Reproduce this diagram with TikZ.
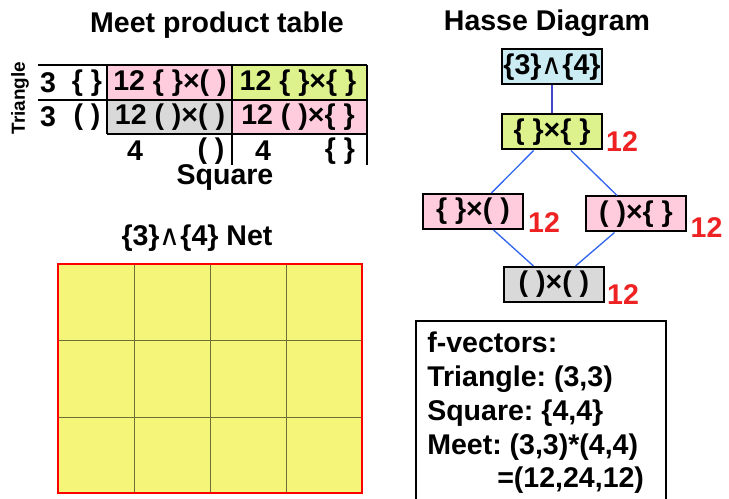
\documentclass[tikz,border=0pt]{standalone}
\usepackage{fontspec}
\setmainfont{Liberation Sans}
\newfontfamily\dvfont{DejaVu Sans}
\newcommand\bigtxt{\fontsize{21.4}{25}\selectfont\bfseries\frenchspacing}
\newcommand\wedgech{{\dvfont\mdseries ∧}}
\definecolor{cpink}{HTML}{FFCCDD}
\definecolor{cgreen}{HTML}{DDF28C}
\definecolor{cgray}{HTML}{D9D9D9}
\definecolor{cblue}{HTML}{CCECF4}
\definecolor{cyellow}{HTML}{F5F57A}
\definecolor{cedge}{HTML}{3366EE}
\definecolor{ctopedge}{HTML}{4444CC}
\definecolor{cred}{HTML}{EE2222}
\colorlet{cgrid}{black!55!cyellow}
\begin{document}
\begin{tikzpicture}[x=0.75pt,y=-0.75pt,
  every node/.style={font=\bigtxt, inner sep=0pt},
  tline/.style={line width=1.5pt, black},
  hbox/.style={draw, line width=1.5pt, minimum width=75pt, minimum height=26.25pt},
  hedge/.style={cedge, line width=1pt},
  redlab/.style={text=cred, anchor=center}]
\useasboundingbox (0,0) rectangle (729,499);

% ---------- Meet product table ----------
\node (ttitle) at (217,25) {Meet product table};
\fill[cpink]  (107,65) rectangle (232,100);
\fill[cgreen] (232,65) rectangle (367,100);
\fill[cgray]  (107,100) rectangle (232,134);
\fill[cpink]  (232,100) rectangle (367,134);
\draw[tline] (38,65) -- (367,65);
\draw[tline] (38,100) -- (367,100);
\draw[tline] (107,134) -- (367,134);
\draw[tline] (107,65) -- (107,134);
\draw[tline] (232,65) -- (232,165);
\draw[tline] (367,65) -- (367,165);

\node[rotate=90, font=\fontsize{14.2}{16}\selectfont\bfseries] (tri) at (20,98) {Triangle};
\node (r1a) at (48,83) {3};
\node (r1b) at (87,83) {\{ \}};
\node (r2a) at (48,117) {3};
\node (r2b) at (87,117) {( )};
\node (c11) at (170,83) {12 \{ \}×( )};
\node (c12) at (298,83) {12 \{ \}×\{ \}};
\node (c21) at (170,117) {12 ( )×( )};
\node (c22) at (298,117) {12 ( )×\{ \}};
\node (k1a) at (135,151) {4};
\node (k1b) at (211,151) {( )};
\node (k2a) at (263,151) {4};
\node (k2b) at (340,151) {\{ \}};
\node (sq) at (225,178) {Square};

% ---------- Net ----------
\node (ntitle) at (197,238) {\{3\}\wedgech\{4\} Net};
\fill[cyellow] (58,264) rectangle (362,493);
\foreach \xx in {134,210,286} \draw[cgrid, line width=0.6pt] (\xx,264) -- (\xx,493);
\foreach \yy in {340,417} \draw[cgrid, line width=0.6pt] (58,\yy) -- (362,\yy);
\draw[red, line width=1.5pt] (58,264) rectangle (362,493);

% ---------- Hasse diagram ----------
\node (htitle) at (547,23) {Hasse Diagram};
\node[hbox, fill=cblue] (top) at (552,67) {\{3\}\wedgech\{4\}};
\node[hbox, fill=cgreen] (gg) at (552,132) {\{ \}×\{ \}};
\node[hbox, fill=cpink] (bp) at (473,211.5) {\{ \}×( )};
\node[hbox, fill=cpink] (pb) at (636,214) {( )×\{ \}};
\node[hbox, fill=cgray] (pp) at (554,284.5) {( )×( )};
\draw[ctopedge, line width=1pt] (top) -- (gg);
\draw[hedge] (gg) -- (bp);
\draw[hedge] (gg) -- (pb);
\draw[hedge] (bp) -- (pp);
\draw[hedge] (pb) -- (pp);
\node[redlab] (lg) at (622,142) {12};
\node[redlab] (lbp) at (544,223) {12};
\node[redlab] (lpb) at (706.5,228) {12};
\node[redlab] (lpp) at (623,295) {12};

% ---------- f-vectors ----------
\draw[line width=1.5pt] (416,510) -- (416,321) -- (666,321) -- (666,510);
\node[anchor=base west] (fv1) at (427,353) {f-vectors:};
\node[anchor=base west] (fv2) at (427,387) {Triangle: (3,3)};
\node[anchor=base west] (fv3) at (427,420) {Square: \{4,4\}};
\node[anchor=base west] (fv4) at (427,454) {Meet: (3,3)*(4,4)};
\node[anchor=base west] (fv5) at (497,487) {=(12,24,12)};
\end{tikzpicture}
\end{document}
